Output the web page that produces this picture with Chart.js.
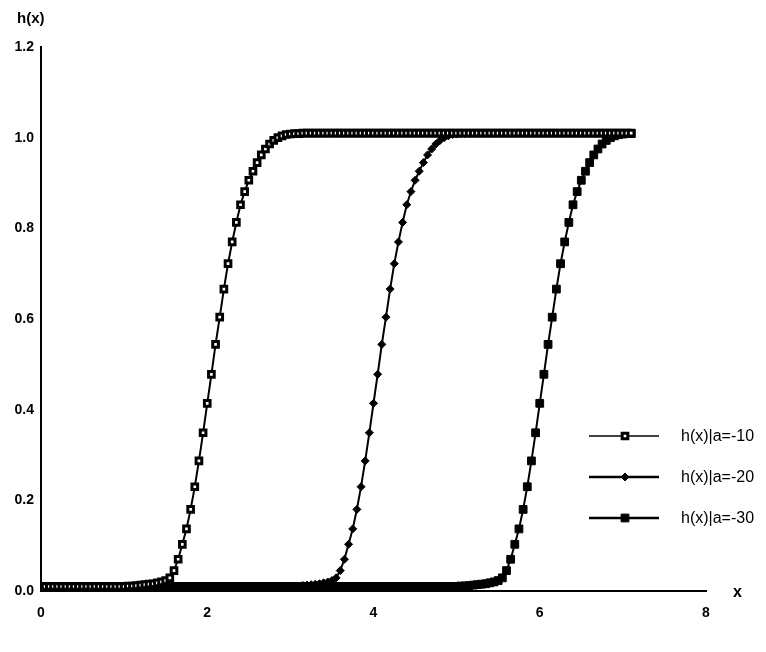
<!DOCTYPE html>
<html>
<head>
<meta charset="utf-8">
<script src="https://cdn.jsdelivr.net/npm/chart.js@4.4.1/dist/chart.umd.min.js"></script>
<style>
  body { margin: 0; background: #fff; }
  #wrap { position: relative; width: 766px; height: 652px; }
</style>
</head>
<body>
<div id="wrap"><canvas id="chart"></canvas></div>
<script>
// x grid (step 0.05)
let xs = [
  0,0.05,0.1,0.15,0.2,0.25,0.3,0.35,0.4,0.45,0.5,0.55,0.6,0.65,0.7,0.75,0.8,0.85,0.9,0.95,
  1,1.05,1.1,1.15,1.2,1.25,1.3,1.35,1.4,1.45,1.5,1.55,1.6,1.65,1.7,1.75,1.8,1.85,1.9,1.95,
  2,2.05,2.1,2.15,2.2,2.25,2.3,2.35,2.4,2.45,2.5,2.55,2.6,2.65,2.7,2.75,2.8,2.85,2.9,2.95,
  3,3.05,3.1,3.15,3.2,3.25,3.3,3.35,3.4,3.45,3.5,3.55,3.6,3.65,3.7,3.75,3.8,3.85,3.9,3.95,
  4,4.05,4.1,4.15,4.2,4.25,4.3,4.35,4.4,4.45,4.5,4.55,4.6,4.65,4.7,4.75,4.8,4.85,4.9,4.95,
  5,5.05,5.1,5.15,5.2,5.25,5.3,5.35,5.4,5.45,5.5,5.55,5.6,5.65,5.7,5.75,5.8,5.85,5.9,5.95,
  6,6.05,6.1,6.15,6.2,6.25,6.3,6.35,6.4,6.45,6.5,6.55,6.6,6.65,6.7,6.75,6.8,6.85,6.9,6.95,
  7,7.05,7.1
];

// h(x) | a=-10
let h10 = [
  0.01,0.01,0.01,0.01,0.01,0.01,0.01,0.01,0.01,0.01,
  0.01,0.01,0.01,0.01,0.01,0.01,
  0.010,0.010,0.010,0.010,0.010,0.011,0.011,0.012,0.013,0.014,
  0.015,0.016,0.018,0.020,0.023,0.029,0.045,0.070,0.103,0.137,
  0.180,0.230,0.287,0.349,0.414,0.478,0.544,0.604,0.666,0.722,
  0.770,0.813,0.852,0.881,0.906,0.926,0.945,0.962,0.975,0.986,
  0.994,1.000,1.004,1.007,1.008,1.009,1.009,1.010,1.010,1.010,1.010,
  1.01,1.01,1.01,1.01,1.01,1.01,1.01,1.01,1.01,1.01,
  1.01,1.01,1.01,1.01,1.01,1.01,1.01,1.01,1.01,1.01,
  1.01,1.01,1.01,1.01,1.01,1.01,1.01,1.01,1.01,1.01,
  1.01,1.01,1.01,1.01,1.01,1.01,1.01,1.01,1.01,1.01,
  1.01,1.01,1.01,1.01,1.01,1.01,1.01,1.01,1.01,1.01,
  1.01,1.01,1.01,1.01,1.01,1.01,1.01,1.01,1.01,1.01,
  1.01,1.01,1.01,1.01,1.01,1.01,1.01,1.01,1.01,1.01,
  1.01,1.01,1.01,1.01,1.01,1.01
];

// h(x) | a=-20
let h20 = [
  0.01,0.01,0.01,0.01,0.01,0.01,0.01,0.01,0.01,0.01,
  0.01,0.01,0.01,0.01,0.01,0.01,0.01,0.01,0.01,0.01,
  0.01,0.01,0.01,0.01,0.01,0.01,0.01,0.01,0.01,0.01,
  0.01,0.01,0.01,0.01,0.01,0.01,0.01,0.01,0.01,0.01,
  0.01,0.01,0.01,0.01,0.01,0.01,0.01,0.01,0.01,0.01,
  0.01,0.01,0.01,0.01,0.01,0.01,
  0.010,0.010,0.010,0.010,0.010,0.011,0.011,0.012,0.013,0.014,
  0.015,0.016,0.018,0.020,0.023,0.029,0.045,0.070,0.103,0.137,
  0.180,0.230,0.287,0.349,0.414,0.478,0.544,0.604,0.666,0.722,
  0.770,0.813,0.852,0.881,0.906,0.926,0.945,0.962,0.975,0.986,
  0.994,1.000,1.004,1.007,1.008,1.009,1.009,1.010,1.010,1.010,1.010,
  1.01,1.01,1.01,1.01,1.01,1.01,1.01,1.01,1.01,1.01,
  1.01,1.01,1.01,1.01,1.01,1.01,1.01,1.01,1.01,1.01,
  1.01,1.01,1.01,1.01,1.01,1.01,1.01,1.01,1.01,1.01,
  1.01,1.01,1.01,1.01,1.01,1.01
];

// h(x) | a=-30
let h30 = [
  0.01,0.01,0.01,0.01,0.01,0.01,0.01,0.01,0.01,0.01,
  0.01,0.01,0.01,0.01,0.01,0.01,0.01,0.01,0.01,0.01,
  0.01,0.01,0.01,0.01,0.01,0.01,0.01,0.01,0.01,0.01,
  0.01,0.01,0.01,0.01,0.01,0.01,0.01,0.01,0.01,0.01,
  0.01,0.01,0.01,0.01,0.01,0.01,0.01,0.01,0.01,0.01,
  0.01,0.01,0.01,0.01,0.01,0.01,0.01,0.01,0.01,0.01,
  0.01,0.01,0.01,0.01,0.01,0.01,0.01,0.01,0.01,0.01,
  0.01,0.01,0.01,0.01,0.01,0.01,0.01,0.01,0.01,0.01,
  0.01,0.01,0.01,0.01,0.01,0.01,0.01,0.01,0.01,0.01,
  0.01,0.01,0.01,0.01,0.01,0.01,
  0.010,0.010,0.010,0.010,0.010,0.011,0.011,0.012,0.013,0.014,
  0.015,0.016,0.018,0.020,0.023,0.029,0.045,0.070,0.103,0.137,
  0.180,0.230,0.287,0.349,0.414,0.478,0.544,0.604,0.666,0.722,
  0.770,0.813,0.852,0.881,0.906,0.926,0.945,0.962,0.975,0.986,
  0.994,1.000,1.004,1.007,1.008,1.009,1.009
];

let seriesLabels = ["h(x)|a=-10", "h(x)|a=-20", "h(x)|a=-30"];
let xTicks = [0, 2, 4, 6, 8];
let yTicks = [0, 0.2, 0.4, 0.6, 0.8, 1.0, 1.2];

function pts(ys) {
  return ys.map((y, i) => ({ x: xs[i], y: y }));
}

let FONT = "'Liberation Sans', Arial, sans-serif";

// custom legend + axis titles
let extras = {
  id: "extras",
  afterDraw(chart) {
    let ctx = chart.ctx;
    ctx.save();
    ctx.fillStyle = "#000";
    ctx.font = "bold 15px " + FONT;
    ctx.textBaseline = "middle";
    ctx.textAlign = "left";
    ctx.fillText("h(x)", 17, 19);
    ctx.font = "bold 16px " + FONT;
    ctx.fillText("x", 733, 593);

    let rows = [436, 477, 518];
    chart.data.datasets.forEach((ds, i) => {
      let y = rows[i];
      ctx.strokeStyle = "#000";
      ctx.lineWidth = i === 0 ? 1.5 : 2.5;
      ctx.beginPath();
      ctx.moveTo(589, y);
      ctx.lineTo(659, y);
      ctx.stroke();
      // marker in the dataset's own style
      ctx.fillStyle = ds.pointBackgroundColor;
      ctx.strokeStyle = "#000";
      ctx.lineWidth = ds.pointBorderWidth;
      Chart.helpers.drawPoint(ctx, {
        pointStyle: ds.pointStyle,
        radius: ds.pointRadius,
        borderWidth: ds.pointBorderWidth
      }, 625, y);
      ctx.fillStyle = "#000";
      ctx.font = "16px " + FONT;
      ctx.fillText(ds.label, 681, y + 1);
    });
    ctx.restore();
  }
};

new Chart(document.getElementById("chart"), {
  type: "line",
  data: {
    datasets: [
      {
        label: seriesLabels[0],
        data: pts(h10),
        borderColor: "#000",
        borderWidth: 2,
        pointStyle: "rect",
        pointRadius: 4,
        pointBorderWidth: 3,
        pointBackgroundColor: "#fff",
        pointBorderColor: "#000"
      },
      {
        label: seriesLabels[1],
        data: pts(h20),
        borderColor: "#000",
        borderWidth: 2,
        pointStyle: "rectRot",
        pointRadius: 4,
        pointBorderWidth: 1,
        pointBackgroundColor: "#000",
        pointBorderColor: "#000"
      },
      {
        label: seriesLabels[2],
        data: pts(h30),
        borderColor: "#000",
        borderWidth: 2,
        pointStyle: "rect",
        pointRadius: 5.5,
        pointBorderWidth: 1,
        pointBackgroundColor: "#000",
        pointBorderColor: "#000"
      }
    ]
  },
  options: {
    responsive: true,
    maintainAspectRatio: false,
    animation: false,
    layout: { padding: { top: 47, right: 60, left: 0, bottom: 0 } },
    plugins: {
      legend: { display: false },
      tooltip: { enabled: false }
    },
    elements: { line: { tension: 0 } },
    scales: {
      x: {
        type: "linear",
        min: 0,
        max: 8,
        afterBuildTicks: s => { s.ticks = xTicks.map(v => ({ value: v })); },
        afterFit: s => { s.height = 61; },
        grid: { display: false, drawTicks: false },
        border: { display: true, color: "#000", width: 2 },
        ticks: { color: "#000", padding: 14, font: { family: FONT, size: 14, weight: "bold" } }
      },
      y: {
        min: 0,
        max: 1.2,
        afterBuildTicks: s => { s.ticks = yTicks.map(v => ({ value: v })); },
        afterFit: s => { s.width = 41; },
        grid: { display: false, drawTicks: false },
        border: { display: true, color: "#000", width: 2 },
        ticks: {
          color: "#000",
          padding: 7,
          font: { family: FONT, size: 14, weight: "bold" },
          callback: v => v.toFixed(1)
        }
      }
    }
  },
  plugins: [extras]
});
</script>
</body>
</html>
